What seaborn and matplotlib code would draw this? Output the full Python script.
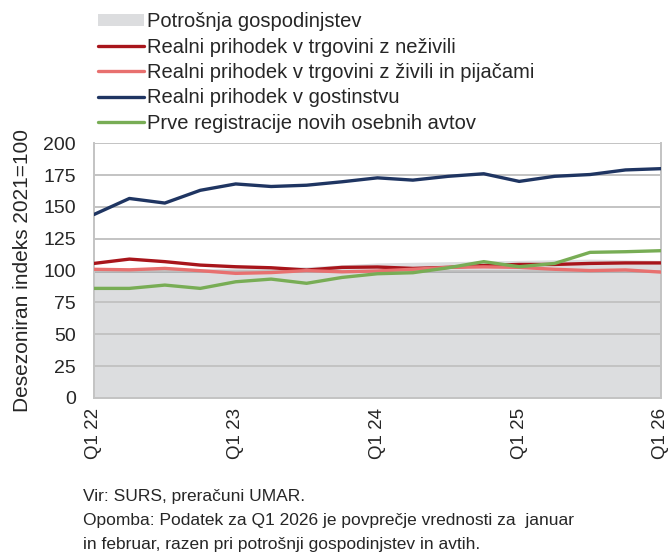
import numpy as np
import pandas as pd
import seaborn as sns
import matplotlib as mpl
mpl.use('Agg')
import matplotlib.pyplot as plt
from matplotlib.patches import Patch
from matplotlib.lines import Line2D

# quarterly data, Q1 2022 - Q1 2026
quarters = ['Q1 22', 'Q2 22', 'Q3 22', 'Q4 22',
            'Q1 23', 'Q2 23', 'Q3 23', 'Q4 23',
            'Q1 24', 'Q2 24', 'Q3 24', 'Q4 24',
            'Q1 25', 'Q2 25', 'Q3 25', 'Q4 25',
            'Q1 26']
potrosnja = [101, 101, 101.5, 101.5, 102, 103, 103, 104.5, 106,
             106.5, 107, 107.5, 108, 108.5, 109, 108.5, 108]
neZivila = [105.6, 109, 107, 104.3, 103, 102.2, 100.4, 102.5, 102.8,
            101.7, 102.5, 104, 104.8, 104.8, 105.6, 106, 106]
zivila = [101, 100.6, 101.7, 99.9, 97.8, 98.4, 100, 99, 99.7,
          101, 102.5, 102.9, 102.5, 101, 100, 100.5, 98.8]
gostinstvo = [144, 156.6, 153, 163, 168, 166, 167, 169.7, 172.8,
              171, 174, 176, 170, 174, 175.4, 179, 180]
avti = [86, 86, 88.6, 86, 91.2, 93.3, 90, 94.6, 97.5,
        98.3, 102.2, 107, 103, 105.6, 114.3, 114.8, 115.6]

labels = ['Potrošnja gospodinjstev',
          'Realni prihodek v trgovini z neživili',
          'Realni prihodek v trgovini z živili in pijačami',
          'Realni prihodek v gostinstvu',
          'Prve registracije novih osebnih avtov']
colors = ['#dcdddf', '#a8151b', '#e8706f', '#1f3562', '#78ad55']

sns.set_style('white')
plt.rcParams['font.family'] = ['Liberation Sans', 'DejaVu Sans']

x = np.arange(len(quarters))
df = pd.DataFrame({'x': np.tile(x, 4),
                   'value': neZivila + zivila + gostinstvo + avti,
                   'serie': np.repeat(labels[1:], len(quarters))})

fig = plt.figure(figsize=(6.71, 5.55), dpi=100)
ax = fig.add_axes([0.140, 0.283, 0.845, 0.459])

ax.fill_between(x, 0, potrosnja, color=colors[0], lw=0, zorder=1)
ax.axhline(100, color='black', lw=1.0, zorder=2)
sns.lineplot(data=df, x='x', y='value', hue='serie', hue_order=labels[1:],
             palette=colors[1:], linewidth=2.4, legend=False, ax=ax, zorder=3)

ax.set_xlim(0, len(quarters) - 1)
ax.set_ylim(0, 200)
ax.set_yticks(range(0, 201, 25))
ax.set_xticks(x[::4])
ax.set_xticklabels(quarters[::4], rotation=90, fontsize=13.5)
ax.tick_params(axis='y', labelsize=14, length=0, pad=13)
ax.tick_params(axis='x', length=4, color='#bfbfbf', width=1.2, pad=3)
ax.set_xlabel('')
ax.set_ylabel('Desezoniran indeks 2021=100', fontsize=15, labelpad=8)
ax.grid(axis='y', color='#c3c3c3', lw=1.4, zorder=0)
ax.set_axisbelow(False)
for s in ['left', 'right', 'bottom']:
    ax.spines[s].set_color('#c3c3c3')
    ax.spines[s].set_linewidth(1.4)
ax.spines['top'].set_visible(False)

handles = [Patch(facecolor=colors[0], edgecolor='none')] + \
          [Line2D([], [], color=c, lw=2.4) for c in colors[1:]]
fig.legend(handles, labels, loc='upper left', bbox_to_anchor=(0.128, 1.0),
           frameon=False, fontsize=14.5, handlelength=2.3, handletextpad=0.15,
           labelspacing=0.32, borderaxespad=0.2, handleheight=0.55)

fig.text(0.124, 0.105, 'Vir: SURS, preračuni UMAR.', fontsize=12.5, va='center')
fig.text(0.124, 0.062, 'Opomba: Podatek za Q1 2026 je povprečje vrednosti za  januar',
         fontsize=12.5, va='center')
fig.text(0.124, 0.019, 'in februar, razen pri potrošnji gospodinjstev in avtih.',
         fontsize=12.5, va='center')

plt.savefig('out.png', dpi=100)
plt.close()
